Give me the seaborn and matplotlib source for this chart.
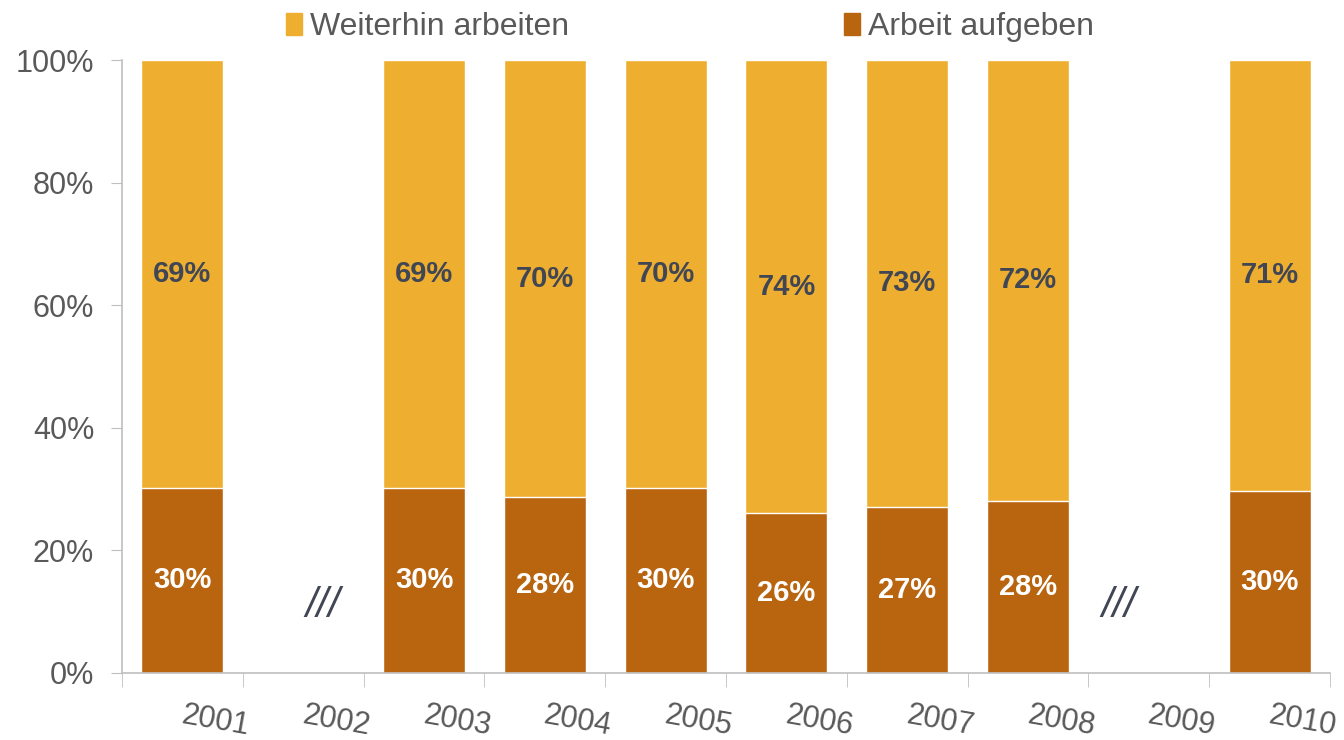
import matplotlib.pyplot as plt
import matplotlib.transforms as mtransforms
from matplotlib.patches import Patch
import numpy as np
import pandas as pd
import seaborn as sns

years = ["2001", "2002", "2003", "2004", "2005", "2006", "2007", "2008", "2009", "2010"]
# share giving up work (bottom segment), NaN = no survey that year
aufgeben = [30.2, np.nan, 30.2, 28.7, 30.2, 26.1, 27.1, 28.1, np.nan, 29.7]
aufgeben_labels = ["30%", "", "30%", "28%", "30%", "26%", "27%", "28%", "", "30%"]
weiter_labels = ["69%", "", "69%", "70%", "70%", "74%", "73%", "72%", "", "71%"]
missing_marks = {"2002": 1.16, "2009": 7.75}

YELLOW = "#EEAF30"
BROWN = "#B9640F"
GREY = "#595959"
DARK = "#404654"
AXIS = "#BFBFBF"

sns.set_style("white")
plt.rcParams["font.family"] = ["Liberation Sans", "DejaVu Sans"]

df = pd.DataFrame({"year": years, "aufgeben": aufgeben})
df["total"] = np.where(df["aufgeben"].notna(), 100.0, np.nan)

fig = plt.figure(figsize=(13.44, 7.40), dpi=100)
ax = fig.add_axes([122 / 1344, 1 - 673 / 740, 1208 / 1344, 613 / 740])

sns.barplot(data=df, x="year", y="total", order=years, color=YELLOW,
            width=0.68, saturation=1, ax=ax)
sns.barplot(data=df, x="year", y="aufgeben", order=years, color=BROWN,
            width=0.68, saturation=1, ax=ax)

# ── segment labels ─────────────────────────────────────────────────────────
for i, (b, lb, lt) in enumerate(zip(aufgeben, aufgeben_labels, weiter_labels)):
    if np.isnan(b):
        continue
    ax.text(i, b / 2, lb, ha="center", va="center", color="white",
            fontsize=21, fontweight="bold")
    ax.text(i, b + (100 - b) / 2, lt, ha="center", va="center", color=DARK,
            fontsize=21, fontweight="bold")

for yr, xpos in missing_marks.items():
    ax.text(xpos, 11, "///", ha="center", va="center", color=DARK,
            fontsize=30, style="italic")

# ── axes styling ───────────────────────────────────────────────────────────
ax.set_xlim(-0.5, len(years) - 0.5)
ax.set_ylim(0, 100)
ax.set_yticks(np.arange(0, 101, 20))
ax.set_yticklabels([f"{v}%" for v in range(0, 101, 20)])
ax.tick_params(axis="y", left=True, length=8, color=AXIS, labelsize=22,
               labelcolor=GREY, pad=12)

ax.set_xticks(range(len(years)))
ax.set_xticklabels(years)
ax.set_xticks(np.arange(-0.5, len(years), 1), minor=True)
ax.tick_params(axis="x", which="major", length=0, labelsize=22,
               labelcolor=GREY, pad=20, labelrotation=-10)
ax.tick_params(axis="x", which="minor", bottom=True, length=10, color=AXIS)
offset = mtransforms.ScaledTranslation(33 / 100, 0, fig.dpi_scale_trans)
for lab in ax.get_xticklabels():
    lab.set_transform(lab.get_transform() + offset)

ax.set_xlabel("")
ax.set_ylabel("")
for side in ["top", "right"]:
    ax.spines[side].set_visible(False)
for side in ["left", "bottom"]:
    ax.spines[side].set_color(AXIS)
    ax.spines[side].set_linewidth(1.2)

handles = [Patch(color=YELLOW, label="Weiterhin arbeiten"),
           Patch(color=BROWN, label="Arbeit aufgeben")]
fig.legend(handles=handles, loc="upper center", bbox_to_anchor=(690 / 1344, 1.022),
           ncol=2, frameon=False, fontsize=23, labelcolor=GREY,
           handlelength=0.5, handleheight=0.7, handletextpad=0.25,
           columnspacing=8.6)

fig.savefig("out.png", dpi=100)
